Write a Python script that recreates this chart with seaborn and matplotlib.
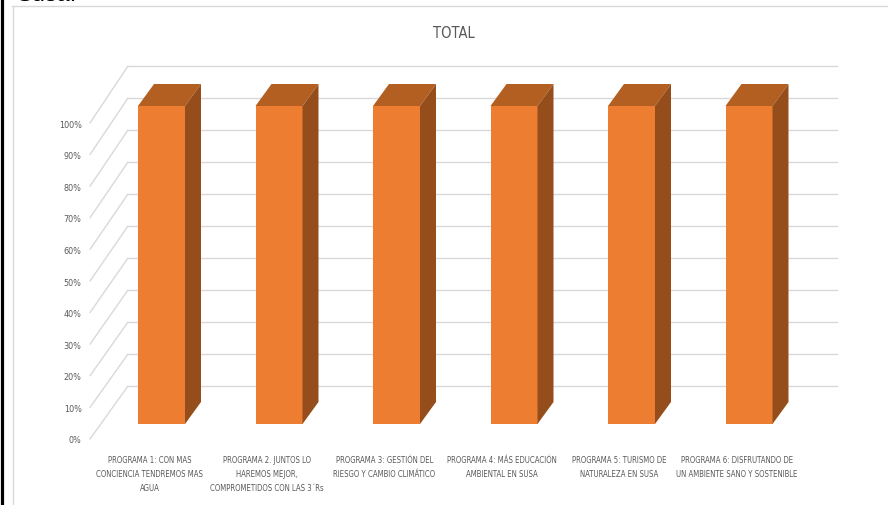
import matplotlib
matplotlib.use("Agg")
import matplotlib.pyplot as plt
from matplotlib.patches import Polygon, ConnectionPatch
from matplotlib.lines import Line2D
from matplotlib.ticker import PercentFormatter
from matplotlib.transforms import IdentityTransform, ScaledTranslation
import seaborn as sns
import pandas as pd

# datos del grafico
programas = [
    "PROGRAMA 1: CON MAS CONCIENCIA TENDREMOS MAS AGUA",
    "PROGRAMA 2. JUNTOS LO HAREMOS MEJOR, COMPROMETIDOS CON LAS 3´Rs",
    "PROGRAMA 3: GESTIÓN DEL RIESGO Y CAMBIO CLIMÁTICO",
    "PROGRAMA 4: MÁS EDUCACIÓN AMBIENTAL EN SUSA",
    "PROGRAMA 5: TURISMO DE NATURALEZA EN SUSA",
    "PROGRAMA 6: DISFRUTANDO DE UN AMBIENTE SANO Y SOSTENIBLE",
]
etiquetas = [
    "PROGRAMA 1: CON MAS\nCONCIENCIA TENDREMOS MAS\nAGUA",
    "PROGRAMA 2. JUNTOS LO\nHAREMOS MEJOR,\nCOMPROMETIDOS CON LAS 3´Rs",
    "PROGRAMA 3: GESTIÓN DEL\nRIESGO Y CAMBIO CLIMÁTICO",
    "PROGRAMA 4: MÁS EDUCACIÓN\nAMBIENTAL EN SUSA",
    "PROGRAMA 5: TURISMO DE\nNATURALEZA EN SUSA",
    "PROGRAMA 6: DISFRUTANDO DE\nUN AMBIENTE SANO Y SOSTENIBLE",
]
total = [1.0, 1.0, 1.0, 1.0, 1.0, 1.0]
ticks = [0.0, 0.1, 0.2, 0.3, 0.4, 0.5, 0.6, 0.7, 0.8, 0.9, 1.0]

FRENTE = "#ED7D31"
TAPA = "#B45F22"
LADO = "#954E1B"
GRIS = "#D9D9D9"
TEXTO = "#595959"

sns.set_theme(style="white")
plt.rcParams["font.family"] = ["DejaVu Sans"]
plt.rcParams["font.stretch"] = "condensed"

W, H = 888, 506
fig = plt.figure(figsize=(W / 100, H / 100), dpi=100)


def rect(x0, y_top, x1, y_bot):
    # pixeles (origen arriba a la izquierda) -> fraccion de figura
    return [x0 / W, 1 - y_bot / H, (x1 - x0) / W, (y_bot - y_top) / H]


# pared del fondo con las lineas de la cuadricula
ax_back = fig.add_axes(rect(128, 67, 837, 387))
ax_back.set_ylim(0, 1)
ax_back.set_yticks(ticks)
ax_back.set_xticks([])
ax_back.yaxis.grid(True, color=GRIS, lw=1)
for gl in ax_back.get_ygridlines():
    gl.set_clip_on(False)
ax_back.tick_params(left=False, labelleft=False)
ax_back.set_facecolor("none")
for s in ax_back.spines.values():
    s.set_visible(False)

# eje de etiquetas (lado izquierdo)
ax_lab = fig.add_axes(rect(90, 124, 91, 440))
ax_lab.set_ylim(0, 1)
ax_lab.set_yticks(ticks)
ax_lab.yaxis.set_major_formatter(PercentFormatter(1.0, decimals=0))
ax_lab.set_xticks([])
ax_lab.tick_params(axis="y", length=0, pad=6, labelsize=6.5, labelcolor=TEXTO)
ax_lab.set_facecolor("none")
for s in ax_lab.spines.values():
    s.set_visible(False)

for v in ticks:
    con = ConnectionPatch(xyA=(0, v), coordsA=ax_lab.get_yaxis_transform(),
                          xyB=(0, v), coordsB=ax_back.get_yaxis_transform(),
                          color=GRIS, lw=1)
    fig.add_artist(con)

# barras (cara frontal)
df = pd.DataFrame({"programa": programas, "total": total})
ax = fig.add_axes(rect(102.75, 107, 807.75, 425))
sns.barplot(data=df, x="programa", y="total", color=FRENTE, saturation=1,
            width=0.4, linewidth=0, ax=ax, zorder=3)
ax.set_ylim(0, 1)
ax.set_xlim(-0.5, len(programas) - 0.5)
ax.set_facecolor("none")
for s in ax.spines.values():
    s.set_visible(False)
ax.set_yticks([])
ax.set_xlabel("")
ax.set_ylabel("")
ax.set_xticks(range(len(etiquetas)))
ax.set_xticklabels(etiquetas, fontsize=5.6, color=TEXTO, linespacing=1.75)
ax.tick_params(axis="x", length=0, pad=22)
for lbl in ax.get_xticklabels():
    lbl.set_transform(lbl.get_transform() + ScaledTranslation(-12 / 100, 0, fig.dpi_scale_trans))

# caras superior y lateral (efecto 3D)
dx, dy = 16, 22
for p in ax.patches:
    (x0, y0), (x1, y1) = ax.transData.transform([(p.get_x(), p.get_y()),
                                                 (p.get_x() + p.get_width(), p.get_y() + p.get_height())])
    top = Polygon([(x0, y1), (x1, y1), (x1 + dx, y1 + dy), (x0 + dx, y1 + dy)],
                  closed=True, facecolor=TAPA, edgecolor="none",
                  transform=IdentityTransform(), clip_on=False, zorder=4)
    side = Polygon([(x1, y0), (x1 + dx, y0 + dy), (x1 + dx, y1 + dy), (x1, y1)],
                   closed=True, facecolor=LADO, edgecolor="none",
                   transform=IdentityTransform(), clip_on=False, zorder=4)
    ax.add_artist(top)
    ax.add_artist(side)

fig.text(454 / W, 1 - 33 / H, "TOTAL", ha="center", va="center", fontsize=10.5, color=TEXTO)

# bordes
fig.add_artist(Line2D([12 / W, 1], [1 - 7 / H, 1 - 7 / H], color=GRIS, lw=1))
fig.add_artist(Line2D([12.5 / W, 12.5 / W], [0, 1 - 7 / H], color=GRIS, lw=1))
fig.add_artist(Line2D([1.5 / W, 1.5 / W], [0, 1], color="black", lw=2.3))
fig.text(17 / W, 1 - 1.1 / H, "Susa.", ha="left", va="baseline", fontsize=17,
         color="black", family=["Liberation Sans", "DejaVu Sans"], fontstretch="normal")

fig.savefig("out.png", dpi=100)
